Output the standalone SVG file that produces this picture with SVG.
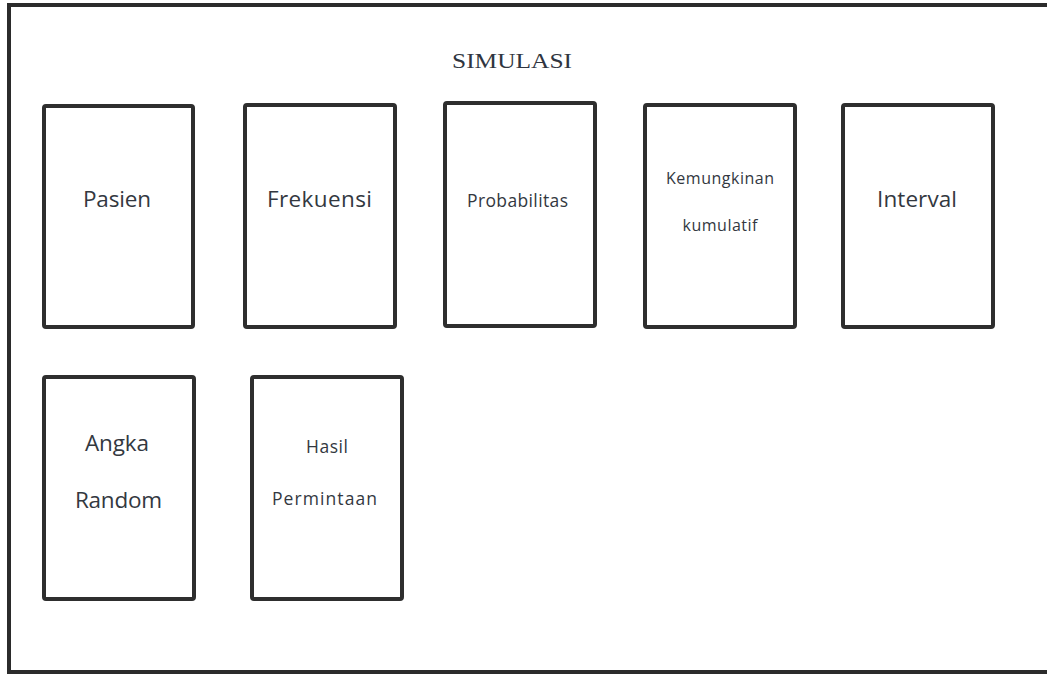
<svg xmlns="http://www.w3.org/2000/svg" width="1047" height="674" viewBox="0 0 1047 674">
<style>
.frame{fill:none;stroke:#2b2b2b;stroke-width:4}
.box{fill:#fff;stroke:#2e2e2e;stroke-width:4;rx:2}
.lbl{font-family:"Open Sans","Noto Sans",sans-serif;fill:#33383f;text-anchor:middle}
.big{font-size:22.5px}
.title{font-family:"Liberation Serif",serif;fill:#2f3540;text-anchor:middle}
</style>
<rect x="0" y="0" width="1047" height="674" fill="#fff"/>
<rect class="frame" x="9" y="5" width="1046" height="667"/>
<text class="title" x="512" y="68" font-size="22" textLength="120" lengthAdjust="spacingAndGlyphs">SIMULASI</text>
<g id="pasien"><rect class="box" x="44" y="106" width="149" height="221"/><text class="lbl big" x="117" y="207" textLength="68">Pasien</text></g>
<g id="frekuensi"><rect class="box" x="245" y="105" width="150" height="222"/><text class="lbl big" x="319.5" y="207" textLength="105">Frekuensi</text></g>
<g id="probabilitas"><rect class="box" x="445" y="103" width="150" height="223"/><text class="lbl" x="517.5" y="207" font-size="17.5" textLength="101">Probabilitas</text></g>
<g id="kemungkinan"><rect class="box" x="645" y="105" width="150" height="222"/><text class="lbl" x="720" y="184" font-size="16" textLength="108">Kemungkinan</text><text class="lbl" x="720" y="231" font-size="16" textLength="75">kumulatif</text></g>
<g id="interval"><rect class="box" x="843" y="105" width="150" height="222"/><text class="lbl big" x="917" y="207" textLength="80">Interval</text></g>
<g id="angka"><rect class="box" x="44" y="377" width="150" height="222"/><text class="lbl big" x="117" y="451" textLength="64">Angka</text><text class="lbl big" x="118.5" y="508" textLength="87">Random</text></g>
<g id="hasil"><rect class="box" x="252" y="377" width="150" height="222"/><text class="lbl" x="327" y="453" font-size="17.5" textLength="42">Hasil</text><text class="lbl" x="324.5" y="505" font-size="17.5" textLength="105">Permintaan</text></g>
<g id="connectors"></g>
</svg>
